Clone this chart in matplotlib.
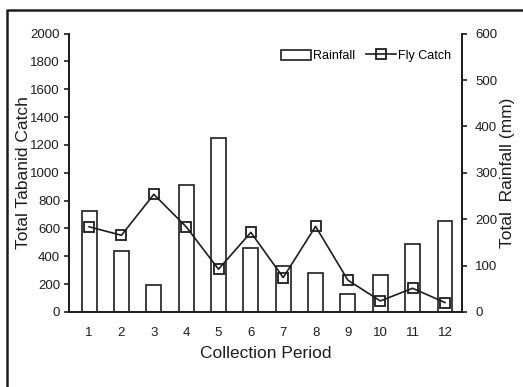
import matplotlib
matplotlib.use("Agg")
import matplotlib.pyplot as plt
from matplotlib.lines import Line2D

plt.rcParams['font.family'] = ['Liberation Sans', 'DejaVu Sans']

periods = [1, 2, 3, 4, 5, 6, 7, 8, 9, 10, 11, 12]
period_labels = [str(p) for p in periods]
rainfall_mm = [218, 131, 57, 274, 376, 137, 98, 84, 39, 79, 146, 197]
fly_catch = [612, 551, 845, 612, 307, 572, 247, 615, 228, 79, 170, 67]

catch_ticks = list(range(0, 2001, 200))
rain_ticks = list(range(0, 601, 100))

ink = '#1e1e1e'

fig = plt.figure(figsize=(5.23, 3.87), dpi=100)
ax = fig.add_axes([0.132, 0.194, 0.751, 0.719])
ax2 = ax.twinx()

# rainfall bars on the right-hand axis
bars = ax2.bar(periods, rainfall_mm, width=0.46, facecolor='white',
               edgecolor=ink, linewidth=1.2, label='Rainfall')

# fly catch line on the left-hand axis, kept above the bars
line, = ax.plot(periods, fly_catch, color=ink, linewidth=1.2, marker='s',
                markersize=6.5, markerfacecolor='none', markeredgecolor=ink,
                markeredgewidth=1.3, label='Fly Catch')
ax.set_zorder(ax2.get_zorder() + 1)
ax.patch.set_visible(False)

ax.set_xlim(0.38, 12.52)
ax.set_ylim(0, 2000)
ax2.set_ylim(0, 600)
ax.set_xticks(periods)
ax.set_xticklabels(period_labels)
ax.set_yticks(catch_ticks)
ax2.set_yticks(rain_ticks)

for a in (ax, ax2):
    a.spines['top'].set_visible(False)
    for s in ('left', 'right', 'bottom'):
        a.spines[s].set_linewidth(1.3)
        a.spines[s].set_color(ink)
    a.tick_params(axis='y', direction='out', length=3.5, width=1.2,
                  colors=ink, labelsize=9.5)
ax.tick_params(axis='y', pad=3)
ax2.tick_params(axis='y', pad=6)
ax.tick_params(axis='x', length=0, labelsize=9.5, colors=ink, pad=11)

ax.set_xlabel('Collection Period', fontsize=12.5, color=ink, labelpad=5)
ax.set_ylabel('Total Tabanid Catch', fontsize=12.5, color=ink)
ax2.set_ylabel('Total  Rainfall (mm)', fontsize=12.5, color=ink)
ax.yaxis.set_label_coords(-0.117, 0.5)
ax2.yaxis.set_label_coords(1.117, 0.5)
ax.yaxis.label.set_va('center')
ax2.yaxis.label.set_va('center')

ax.legend([bars, line], ['Rainfall', 'Fly Catch'], ncol=2, frameon=False,
          loc='upper right', bbox_to_anchor=(0.992, 0.97), fontsize=9,
          handlelength=2.4, handleheight=0.9, handletextpad=0.15,
          columnspacing=0.9, borderaxespad=0.2)

# outer frame along the left and top edges
fig.add_artist(Line2D([7 / 523, 7 / 523, 1.0], [0.0, 1 - 10 / 387, 1 - 10 / 387],
                      transform=fig.transFigure, color=ink, linewidth=1.8))

fig.savefig('out.png', dpi=100)
